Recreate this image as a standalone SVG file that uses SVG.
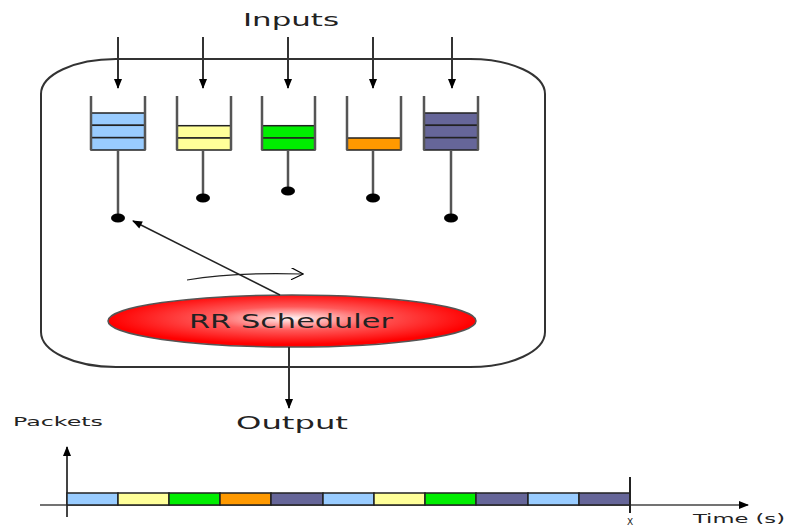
<svg xmlns="http://www.w3.org/2000/svg" width="786" height="526" viewBox="0 0 786 526">
<defs>
<style>
.ln{stroke:#333;stroke-width:2;fill:none}
.wall{stroke:#555;stroke-width:2.5;fill:none}
.stem{stroke:#555;stroke-width:2.5}
.cell{stroke:#222;stroke-width:1.5}
.dot{fill:#000}
.lbl{font-family:"DejaVu Sans",Verdana,sans-serif;fill:#222}
.b{fill:#99ccff}.y{fill:#ffff99}.g{fill:#00ee00}.o{fill:#ff9900}.p{fill:#666699}
.seg{stroke:#222;stroke-width:1.5}
</style>
<marker id="ahL" viewBox="0 0 10 10" refX="9" refY="5" markerWidth="14" markerHeight="10" orient="auto" markerUnits="userSpaceOnUse">
<path d="M0,1 L10,5 L0,9 z" fill="#000"/>
</marker>
<marker id="open" viewBox="0 0 10 10" refX="9" refY="5" markerWidth="14" markerHeight="12" orient="auto" markerUnits="userSpaceOnUse">
<path d="M0,0 L10,5 L0,10" fill="none" stroke="#000" stroke-width="1"/>
</marker>
<radialGradient id="red" cx="0.5" cy="0.45" r="0.5">
<stop offset="0" stop-color="#fff4f4"/>
<stop offset="0.45" stop-color="#ff5a5a"/>
<stop offset="1" stop-color="#ff0000"/>
</radialGradient>
</defs>
<rect x="0" y="0" width="786" height="526" fill="#fff"/>

<g id="container">
<rect x="41" y="59" width="504" height="308" rx="75" ry="35" fill="none" stroke="#333" stroke-width="2"/>
</g>

<g id="inputs-label">
<text class="lbl" x="291" y="26" font-size="17" text-anchor="middle" textLength="96" lengthAdjust="spacingAndGlyphs">Inputs</text>
</g>

<g id="queue1">
<rect class="cell b" x="91" y="113" width="54" height="12.3"/>
<rect class="cell b" x="91" y="125.3" width="54" height="12.3"/>
<rect class="cell b" x="91" y="137.7" width="54" height="12.3"/>
<path class="wall" d="M91,96 V150 M145,96 V150"/>
</g>
<g id="queue2">
<rect class="cell y" x="177" y="125.7" width="54" height="12.3"/>
<rect class="cell y" x="177" y="138" width="54" height="12"/>
<path class="wall" d="M177,96 V150 M231,96 V150"/>
</g>
<g id="queue3">
<rect class="cell g" x="262" y="125.7" width="53" height="12.3"/>
<rect class="cell g" x="262" y="138" width="53" height="12"/>
<path class="wall" d="M262,96 V150 M315,96 V150"/>
</g>
<g id="queue4">
<rect class="cell o" x="347" y="138" width="54" height="12"/>
<path class="wall" d="M347,96 V150 M401,96 V150"/>
</g>
<g id="queue5">
<rect class="cell p" x="424" y="113" width="54" height="12.3"/>
<rect class="cell p" x="424" y="125.3" width="54" height="12.3"/>
<rect class="cell p" x="424" y="137.7" width="54" height="12.3"/>
<path class="wall" d="M424,96 V150 M478,96 V150"/>
</g>

<g id="switches">
<line class="stem" x1="118" y1="150" x2="118" y2="218"/>
<ellipse class="dot" cx="118" cy="218" rx="7" ry="4.5"/>
<line class="stem" x1="203" y1="150" x2="203" y2="198"/>
<ellipse class="dot" cx="203" cy="198" rx="7" ry="4.5"/>
<line class="stem" x1="288" y1="150" x2="288" y2="191"/>
<ellipse class="dot" cx="288" cy="191" rx="7" ry="4.5"/>
<line class="stem" x1="373" y1="150" x2="373" y2="198"/>
<ellipse class="dot" cx="373" cy="198" rx="7" ry="4.5"/>
<line class="stem" x1="451" y1="150" x2="451" y2="218"/>
<ellipse class="dot" cx="451" cy="218" rx="7" ry="4.5"/>
</g>

<g id="scheduler">
<ellipse cx="292" cy="321" rx="184" ry="26" fill="url(#red)" stroke="#555" stroke-width="1.5"/>
<text class="lbl" x="291" y="328" font-size="20" fill="#333" text-anchor="middle" textLength="204" lengthAdjust="spacingAndGlyphs">RR Scheduler</text>
</g>

<g id="output-label">
<text class="lbl" x="292" y="429" font-size="18" text-anchor="middle" textLength="112" lengthAdjust="spacingAndGlyphs">Output</text>
</g>

<g id="connectors">
<line class="ln" x1="118" y1="37" x2="118" y2="88" marker-end="url(#ahL)"/>
<line class="ln" x1="203" y1="37" x2="203" y2="88" marker-end="url(#ahL)"/>
<line class="ln" x1="288" y1="37" x2="288" y2="88" marker-end="url(#ahL)"/>
<line class="ln" x1="373" y1="37" x2="373" y2="88" marker-end="url(#ahL)"/>
<line class="ln" x1="452" y1="37" x2="452" y2="88" marker-end="url(#ahL)"/>
<line x1="280" y1="295" x2="133" y2="221" stroke="#222" stroke-width="1.5" marker-end="url(#ahL)"/>
<path d="M187,280 Q235,272 302,274" fill="none" stroke="#222" stroke-width="1.2" marker-end="url(#open)"/>
<line class="ln" x1="289" y1="347" x2="289" y2="408" marker-end="url(#ahL)"/>
</g>

<g id="chart">
<text class="lbl" x="13" y="426" font-size="13" textLength="90" lengthAdjust="spacingAndGlyphs">Packets</text>
<line x1="67" y1="517" x2="67" y2="447" stroke="#444" stroke-width="2" marker-end="url(#ahL)"/>
<line x1="40" y1="505" x2="748" y2="505" stroke="#444" stroke-width="1.5" marker-end="url(#ahL)"/>
<rect class="seg b" x="67" y="493" width="51" height="12"/>
<rect class="seg y" x="118" y="493" width="51" height="12"/>
<rect class="seg g" x="169" y="493" width="51" height="12"/>
<rect class="seg o" x="220" y="493" width="51" height="12"/>
<rect class="seg p" x="271" y="493" width="52" height="12"/>
<rect class="seg b" x="323" y="493" width="51" height="12"/>
<rect class="seg y" x="374" y="493" width="51" height="12"/>
<rect class="seg g" x="425" y="493" width="51" height="12"/>
<rect class="seg p" x="476" y="493" width="52" height="12"/>
<rect class="seg b" x="528" y="493" width="51" height="12"/>
<rect class="seg p" x="579" y="493" width="51" height="12"/>
<line x1="630" y1="477" x2="630" y2="513" stroke="#222" stroke-width="2"/>
<text class="lbl" x="630" y="525" font-size="9" text-anchor="middle">X</text>
<text class="lbl" x="693" y="523" font-size="13" textLength="92" lengthAdjust="spacingAndGlyphs">Time (s)</text>
</g>
</svg>
